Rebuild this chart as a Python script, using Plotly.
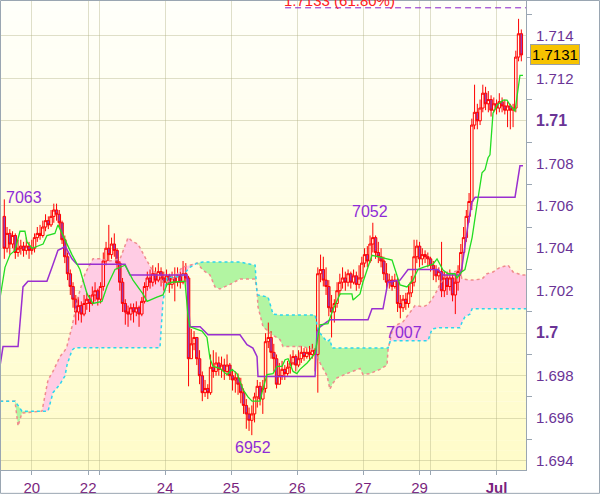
import plotly.graph_objects as go

BASE = 1.7
PIP = 0.0001

# ---- hourly candles (values in pips relative to 1.7000) ----
first_open_pips = 55
close_pips = [
    40, 47, 42, 46, 38, 40, 41, 39, 41, 39,
    40, 45, 47, 46, 50, 53, 51, 55, 58, 56,
    52, 44, 36, 28, 22, 16, 10, 13, 9, 14,
    16, 14, 18, 20, 16, 22, 34, 40, 37, 42,
    39, 33, 24, 14, 10, 9, 12, 10, 12, 9,
    15, 22, 26, 24, 28, 25, 29, 26, 24, 27,
    23, 26, 24, 27, 24, 28, 26, -12, -5, -2,
    -12, -20, -28, -26, -28, -16, -18, -14, -17, -15,
    -18, -15, -20, -22, -21, -24, -28, -34, -38, -41,
    -38, -30, -25, -31, -26, -4, -2, -9, -12, -24,
    -20, -17, -19, -16, -14, -11, -15, -12, -9, -11,
    -9, -10, -8, -10, 28, 30, 25, 22, 12, 10,
    14, 20, 24, 26, 24, 28, 24, 27, 23, 26,
    33, 37, 34, 42, 45, 38, 36, 34, 28, 24,
    25, 22, 25, 14, 12, 16, 14, 19, 24, 36,
    41, 35, 37, 36, 35, 32, 30, 27, 29, 20,
    26, 22, 26, 18, 24, 29, 38, 45, 55, 62,
    98, 104, 100, 106, 113, 108, 110, 105, 108, 106,
    109, 107, 105, 107, 105, 106, 130, 141, 131,
]
high_pips = [
    63, 50, 49, 48, 47, 44, 44, 43, 45, 43,
    44, 47, 50, 51, 53, 56, 55, 58, 61, 61,
    58, 53, 46, 38, 30, 24, 18, 17, 15, 18,
    19, 18, 22, 24, 21, 24, 38, 43, 51, 45,
    47, 40, 34, 26, 16, 13, 14, 14, 15, 13,
    17, 24, 29, 30, 32, 31, 33, 31, 29, 30,
    28, 29, 31, 31, 29, 34, 33, 27, 2, 1,
    -2, -8, -18, -22, -24, -10, -8, -9, -11, -11,
    -12, -10, -14, -17, -18, -19, -21, -26, -31, -35,
    -34, -28, -22, -23, -22, 0, 5, 1, -5, -10,
    -14, -13, -15, -13, -10, -8, -10, -8, -6, -7,
    -7, -6, -5, -7, 31, 37, 36, 31, 25, 18,
    16, 24, 28, 31, 29, 30, 29, 30, 29, 32,
    36, 40, 41, 46, 52, 46, 43, 40, 36, 33,
    28, 27, 28, 26, 18, 18, 19, 23, 27, 44,
    44, 43, 40, 39, 38, 36, 34, 32, 31, 43,
    29, 29, 30, 28, 28, 32, 42, 50, 58, 66,
    101, 117, 108, 110, 117, 116, 114, 112, 111, 110,
    113, 111, 110, 109, 108, 108, 133, 148, 143,
]
low_pips = [
    35, 38, 37, 40, 35, 36, 37, 36, 37, 35,
    37, 38, 43, 44, 45, 48, 49, 50, 52, 53,
    50, 42, 33, 25, 18, 12, 4, 6, 5, 8,
    11, 10, 13, 15, 13, 14, 20, 32, 34, 35,
    36, 30, 20, 10, 4, 3, 6, 5, 8, 3,
    8, 14, 20, 21, 22, 23, 24, 22, 20, 22,
    19, 21, 15, 22, 21, 23, 24, -25, -12, -8,
    -15, -24, -32, -30, -31, -29, -21, -20, -20, -21,
    -22, -20, -22, -27, -28, -29, -33, -38, -45, -46,
    -48, -42, -35, -34, -38, -28, -7, -12, -18, -26,
    -24, -22, -22, -20, -19, -15, -18, -16, -14, -13,
    -12, -13, -12, -18, -28, 24, 22, 18, 8, -2,
    5, 12, 18, 21, 20, 22, 21, 23, 20, 21,
    24, 31, 31, 33, 38, 35, 33, 31, 25, 20,
    21, 20, 21, 10, 7, 10, 11, 12, 17, 22,
    33, 31, 32, 33, 31, 29, 25, 24, 25, 17,
    17, 18, 20, 15, 9, 20, 27, 37, 43, 52,
    58, 96, 96, 98, 104, 105, 104, 102, 104, 103,
    104, 104, 103, 97, 96, 97, 104, 128, 128,
]

# ---- conversion line (green) vertices: bar index, pips ----
tenkan_x = [-1.5, 0.25, 2.1, 3.9, 5.7, 7.5, 8.25, 10.1, 14.1, 15.5, 18.4, 19.5, 21.0, 24.6, 27.5,
            30.1, 32.25, 35.5, 37.35, 40.25, 43.9, 46.8, 50.4, 51.9, 55.5, 57.7, 59.2, 61.0, 65.7,
            66.8, 67.5, 71.9, 73.7, 74.8, 75.9, 78.4, 81.0, 82.8, 84.6, 86.8, 88.6, 90.1, 93.0,
            93.7, 95.5, 97.7, 99.2, 101.0, 102.1, 103.2, 105.0, 106.4, 107.5, 110.1, 113.0,
            114.8, 117.7, 119.5, 122.1, 126.4, 126.8, 129.35, 130.4, 131.9, 133.7, 136.6, 141.0,
            142.1, 143.9, 146.4, 148.6, 150.4, 152.25, 155.9, 157.35, 158.4, 159.5, 161.35,
            163.9, 164.6, 166.4, 167.5, 168.6, 170.1, 171.9, 173.7, 174.8, 175.9, 176.6, 177.35,
            177.7, 179.2, 181.35, 182.8, 183.9, 185.7, 186.4, 187.5, 188.6]
tenkan_pips = [17, 31, 37, 39, 48, 48, 43, 40, 42, 46, 47, 51, 47, 37, 30,
               18.5, 14, 15, 22, 30, 32, 25, 18.5, 15, 17, 18, 23, 24, 24.5,
               8, 3, 1, -2, -12, -15.6, -16.5, -19.5, -17, -19, -26.5, -30, -32, -32,
               -28, -19.5, -19, -15.6, -15.6, -12.5, -12, -18, -19, -17, -14, -9.5,
               4, 4.5, 11, 18.5, 18.5, 15.6, 18.5, 24, 29.6, 36.7, 35.8, 34.4,
               30, 22.7, 21.8, 25, 30, 31, 32.5, 35, 32.5, 29.7, 28,
               28, 26, 29, 30, 36.7, 45, 60.6, 75.5, 77, 82.6, 84, 100,
               103.6, 107.4, 109.7, 109.7, 107.4, 104.5, 112, 121.4, 121.4]

# ---- base line (purple) vertices ----
kijun_x = [-1.5, -0.47, 5.0, 6.8, 8.6, 15.5, 17.35, 19.5, 21.0, 22.1, 24.6, 26.4, 43.9, 45.7,
           66.4, 67.5, 71.2, 74.1, 85.7, 88.25, 90.4, 91.9, 92.25, 113.0, 113.7, 114.8, 118.4,
           132.25, 133.7, 137.7, 139.5, 143.9, 146.8, 157.7, 159.5, 165.7, 166.4, 168.6, 170.1,
           171.2, 185.7, 186.8, 187.5, 188.6]
kijun_pips = [-15, -6.3, -6.3, 21.8, 24.5, 24.5, 31, 39, 40, 41, 35, 32.5, 32.5, 27.4,
              27.4, 3, 3, -0.7, -0.7, -5.4, -7, -11, -20.4, -20.4, 0.7, 3, 6.3,
              6.3, 11.5, 11.5, 24, 25, 30, 30, 27.4, 27.4, 31, 51, 62,
              64, 64, 73, 78.8, 78.8]

# ---- cloud spans (salmon = span A, cyan = span B) ----
cloud_x = [-1.5, 3.9, 5.0, 6.4, 13.7, 15.9, 17.7, 20.25, 22.1, 22.8, 24.6, 25.7, 26.8, 29.35,
           32.25, 34.8, 38.4, 42.1, 45.0, 46.8, 48.6, 51.9, 53.7, 55.5, 56.6, 57.7, 59.2, 62.1,
           64.6, 67.5, 70.1, 72.25, 74.8, 76.6, 78.4, 82.1, 85.7, 91.2, 91.9, 92.25, 94.1, 95.9,
           96.6, 97.7, 100.25, 101.35, 108.6, 113.0, 114.1, 114.8, 117.35, 118.4, 119.2, 121.0,
           124.6, 126.8, 129.35, 130.4, 133.0, 136.6, 139.16, 139.53, 140.25, 141.35, 145.0,
           147.5, 149.35, 152.25, 154.1, 155.5, 157.35, 158.4, 161.0, 163.2, 165.7, 166.4,
           167.5, 169.35, 170.1, 173.7, 175.5, 177.7, 180.25, 183.2, 185.0, 188.25, 189.7]
span_a_pips = [-32, -32, -43.7, -37.6, -36.7, -22, -18, -11, -8, -6, 3, 10, 17, 28,
               35, 35, 34, 35, 45, 43, 42, 34, 30, 28, 27, 24, 24, 26.4,
               31, 32, 33, 29.7, 27.4, 21.8, 20.8, 23, 25.5, 25.5, 20, 12.4, 3, 1,
               0, -1, -3, -6.3, -6.3, -8, -12, -14, -20, -26.4, -24, -21,
               -19, -18, -16.6, -19.4, -19, -17, -15, -7.7, -3, 3, 5.4,
               10, 13, 12.4, 13.5, 16, 20, 23, 28, 28.8, 29.7, 25.5,
               25.3, 25, 25, 25.5, 28, 28.8, 31, 32, 28.8, 27.4, 27.4]
span_b_pips = [-32, -32, -34, -36.7, -36.7, -36.7, -28, -24, -20, -15, -8, -6.8, -6.8, -6.8,
               -6.8, -6.8, -6.8, -6.8, -6.8, -6.8, -6.8, -6.8, -6.8, -6.8, -6.8, 15, 26.4, 26.4,
               27, 31, 33, 33.5, 33.5, 33.5, 33.5, 33.5, 33.5, 32, 18.5, 18, 17.5, 17,
               14, 9, 8.6, 8.6, 8.6, 8.6, 1.6, 0, -4, -3, -7, -7,
               -7, -7, -7, -7, -7, -7, -7, -7, -4, -3.5, -3.5,
               -3.5, -3.5, -3.5, -3.5, 2, 2.3, 2.6, 2.6, 2.6, 2.6, 5,
               7.7, 9, 11.5, 11.5, 11.5, 11.5, 11.5, 11.5, 11.5, 11.5, 11.5]

# ---- axes ----
x_tick_vals = [10, 30.5, 34.5, 58.5, 82.5, 106.5, 130.5, 151, 155, 179]
x_tick_text = ["20", "22", "", "24", "25", "26", "27", "29", "", "<b>Jul</b>"]
y_tick_vals = [1.694, 1.696, 1.698, 1.700, 1.702, 1.704, 1.706, 1.708, 1.710, 1.712, 1.714]
y_tick_text = ["1.694", "1.696", "1.698", "<b><span style='font-size:16px'>1.7</span></b>",
               "1.702", "1.704", "1.706", "1.708",
               "<b><span style='font-size:16px'>1.71</span></b>", "1.712", "1.714"]
x_range = [-1.2, 189.7]
y_range = [1.69356, 1.71564]

# ---- extreme labels and markers ----
label_text = ["7063", "7052", "7007", "6952"]
label_x = [-0.1, 133.0, 145.3, 90.4]
label_y = [1.70639, 1.70573, 1.70002, 1.69460]
label_anchor = ["left", "center", "center", "center"]
last_price = 1.7131
fib_level = 1.71532
fib_start = 102.1
fib_text = "1.7133 (61.80%)"


def to_price(vals):
    return [BASE + v * PIP for v in vals]


n = len(close_pips)
bars = list(range(n))
open_pips = [first_open_pips] + close_pips[:-1]

fig = go.Figure()

# background gradient (white -> pale yellow)
N_BANDS = 48
top_rgb = (255, 255, 251)
bot_rgb = (255, 252, 200)
shapes = []
for k in range(N_BANDS):
    t = (k + 0.5) / N_BANDS
    r = round(bot_rgb[0] + (top_rgb[0] - bot_rgb[0]) * t)
    g = round(bot_rgb[1] + (top_rgb[1] - bot_rgb[1]) * t)
    b = round(bot_rgb[2] + (top_rgb[2] - bot_rgb[2]) * t)
    shapes.append(dict(type="rect", xref="paper", yref="paper", x0=0, x1=1,
                       y0=k / N_BANDS, y1=(k + 1.02) / N_BANDS,
                       fillcolor=f"rgb({r},{g},{b})", line=dict(width=0), layer="below"))

# cloud fill polygons
sa = to_price(span_a_pips)
sb = to_price(span_b_pips)
P = []
for j in range(len(cloud_x)):
    if j > 0:
        d0 = sa[j - 1] - sb[j - 1]
        d1 = sa[j] - sb[j]
        if d0 * d1 < 0:
            t = d0 / (d0 - d1)
            xc = cloud_x[j - 1] + t * (cloud_x[j] - cloud_x[j - 1])
            yc = sa[j - 1] + t * (sa[j] - sa[j - 1])
            P.append((xc, yc, yc))
    P.append((cloud_x[j], sa[j], sb[j]))
signs = []
for k in range(len(P) - 1):
    mid = (P[k][1] + P[k + 1][1] - P[k][2] - P[k + 1][2]) / 2
    signs.append(1 if mid > 1e-9 else (-1 if mid < -1e-9 else 0))
k = 0
while k < len(signs):
    s = signs[k]
    if s == 0:
        k += 1
        continue
    start = k
    while k < len(signs) and signs[k] == s:
        k += 1
    run = P[start:k + 1]
    pts = [(p[0], p[1]) for p in run] + [(p[0], p[2]) for p in reversed(run)]
    path = "M " + " L ".join(f"{x:.4f},{y:.6f}" for x, y in pts) + " Z"
    shapes.append(dict(type="path", xref="x", yref="y", path=path,
                       fillcolor="#FFCCE4" if s > 0 else "#B2F5A2",
                       line=dict(width=0), layer="between"))

# frame around the whole picture
shapes.append(dict(type="rect", xref="paper", yref="paper",
                   x0=-0.5 / 525, x1=598.5 / 525, y0=-23.5 / 472, y1=472.5 / 472,
                   line=dict(color="#9AA6B2", width=1), fillcolor="rgba(0,0,0,0)", layer="above"))

# candles
fig.add_trace(go.Candlestick(
    x=bars, open=to_price(open_pips), high=to_price(high_pips),
    low=to_price(low_pips), close=to_price(close_pips),
    increasing=dict(line=dict(color="#FF0000", width=1), fillcolor="rgba(0,0,0,0)"),
    decreasing=dict(line=dict(color="#FF0000", width=1), fillcolor="#9A3CB4"),
    whiskerwidth=0, showlegend=False, hoverinfo="skip"))

# cloud edges
fig.add_trace(go.Scatter(x=cloud_x, y=sa, mode="lines",
                         line=dict(color="#F08C8C", width=1.5, dash="3px,3px"),
                         showlegend=False, hoverinfo="skip"))
fig.add_trace(go.Scatter(x=cloud_x, y=sb, mode="lines",
                         line=dict(color="#2CD6EE", width=1.5, dash="3px,3px"),
                         showlegend=False, hoverinfo="skip"))

# base & conversion lines
fig.add_trace(go.Scatter(x=kijun_x, y=to_price(kijun_pips), mode="lines",
                         line=dict(color="#9A2FD0", width=1.5),
                         showlegend=False, hoverinfo="skip"))
fig.add_trace(go.Scatter(x=tenkan_x, y=to_price(tenkan_pips), mode="lines",
                         line=dict(color="#22DD22", width=1.3),
                         showlegend=False, hoverinfo="skip"))

# fibonacci level
fig.add_trace(go.Scatter(x=[fib_start, x_range[1]], y=[fib_level, fib_level], mode="lines",
                         line=dict(color="#8A1FC8", width=1, dash="6px,4px"),
                         showlegend=False, hoverinfo="skip"))

annotations = []
for txt, xx, yy, anc in zip(label_text, label_x, label_y, label_anchor):
    annotations.append(dict(x=xx, y=yy, xref="x", yref="y", text=txt, showarrow=False,
                            xanchor=anc, yanchor="middle",
                            font=dict(family="Liberation Sans, Arial", size=16, color="#8E2BD6")))
annotations.append(dict(x=122, y=fib_level, xref="x", yref="y", text=fib_text, showarrow=False,
                        xanchor="center", yanchor="bottom", yshift=-3,
                        font=dict(family="Liberation Sans, Arial", size=15, color="#FF2020")))
annotations.append(dict(x=1, y=last_price, xref="paper", yref="y", text="1.7131", showarrow=False,
                        xanchor="left", yanchor="middle", xshift=4,
                        bgcolor="#F7C300", bordercolor="#9AA0A8", borderwidth=1, borderpad=1,
                        font=dict(family="Liberation Sans, Arial", size=15, color="#000000")))

grid_col = "rgba(175,175,130,0.40)"
fig.update_layout(
    width=600, height=497,
    margin=dict(l=1, r=74, t=1, b=24),
    paper_bgcolor="#FFFFFF", plot_bgcolor="#FFFFFB",
    shapes=shapes, annotations=annotations,
    showlegend=False, hovermode=False,
    boxgap=0.1, boxgroupgap=0,
    xaxis=dict(range=x_range, rangeslider=dict(visible=False),
               tickmode="array", tickvals=x_tick_vals, ticktext=x_tick_text,
               showgrid=True, gridcolor=grid_col, gridwidth=1, zeroline=False,
               ticks="outside", ticklen=4, tickcolor="#9AA6B2",
               showline=True, linecolor="#9AA6B2", linewidth=1,
               tickfont=dict(family="Liberation Sans, Arial", size=15, color="#7A1F7E")),
    yaxis=dict(range=y_range, side="right",
               tickmode="array", tickvals=y_tick_vals, ticktext=y_tick_text,
               showgrid=True, gridcolor=grid_col, gridwidth=1, zeroline=False,
               ticks="outside", ticklen=6, tickcolor="rgba(0,0,0,0)",
               minor=dict(tick0=1.693, dtick=0.002, ticks="outside", ticklen=5,
                          tickcolor="#9AA6B2", showgrid=False),
               showline=True, linecolor="#9AA6B2", linewidth=1,
               tickfont=dict(family="Liberation Sans, Arial", size=15, color="#6A3496")),
)

fig.write_html("out.html", config={"displayModeBar": False},
               post_script="document.body.style.margin='0px';document.body.style.padding='0px';")
